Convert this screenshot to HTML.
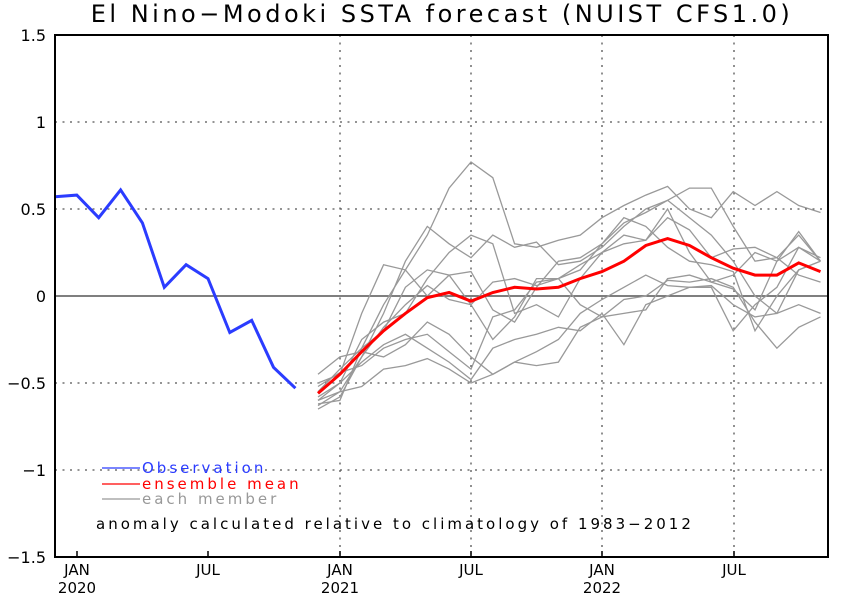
<!DOCTYPE html>
<html><head><meta charset="utf-8"><style>
html,body{margin:0;padding:0;background:#fff;}
svg text{font-family:"DejaVu Sans","Liberation Sans",sans-serif;}
</style></head><body>
<svg id="s" width="843" height="597" xmlns="http://www.w3.org/2000/svg">
<rect width="843" height="597" fill="#fff"/>
<text x="442" y="22" font-size="24" text-anchor="middle" letter-spacing="3.5" fill="#000">El Nino−Modoki SSTA forecast (NUIST CFS1.0)</text>
<g stroke="#555" stroke-width="1.3" stroke-dasharray="2,5.5">
<line x1="55" y1="122" x2="828" y2="122"/><line x1="55" y1="209" x2="828" y2="209"/>
<line x1="55" y1="383" x2="828" y2="383"/><line x1="55" y1="470" x2="828" y2="470"/>
<line x1="340" y1="35" x2="340" y2="557"/><line x1="471" y1="35" x2="471" y2="557"/>
<line x1="602" y1="35" x2="602" y2="557"/><line x1="734" y1="35" x2="734" y2="557"/>
</g>
<line x1="55" y1="296" x2="828" y2="296" stroke="#555" stroke-width="1.5"/>
<g id="mem" fill="none" stroke="#999" stroke-width="1.3"></g>
<polyline id="mean" fill="none" stroke="#f00" stroke-width="3"/>
<polyline id="obs" fill="none" stroke="#2b3cff" stroke-width="3"/>
<rect x="55" y="35" width="773" height="522" fill="none" stroke="#000" stroke-width="2"/>
<g font-size="16" text-anchor="end" fill="#000">
<text x="46" y="41">1.5</text><text x="46" y="128">1</text><text x="46" y="215">0.5</text>
<text x="46" y="302">0</text><text x="46" y="389">−0.5</text><text x="46" y="476">−1</text><text x="46" y="563">−1.5</text>
</g>
<g stroke="#000" stroke-width="1.5">
<line x1="77" y1="557" x2="77" y2="551"/><line x1="208" y1="557" x2="208" y2="551"/>
<line x1="340" y1="557" x2="340" y2="551"/><line x1="471" y1="557" x2="471" y2="551"/>
<line x1="602" y1="557" x2="602" y2="551"/><line x1="734" y1="557" x2="734" y2="551"/>
</g>
<g font-size="15" text-anchor="middle" fill="#000">
<text x="77" y="575">JAN</text><text x="77" y="593">2020</text>
<text x="208" y="575">JUL</text>
<text x="340" y="575">JAN</text><text x="340" y="593">2021</text>
<text x="471" y="575">JUL</text>
<text x="602" y="575">JAN</text><text x="602" y="593">2022</text>
<text x="734" y="575">JUL</text>
</g>
<line x1="102" y1="468" x2="140" y2="468" stroke="#2b3cff" stroke-width="1.3"/>
<text x="142" y="473" font-size="15" fill="#2b3cff" letter-spacing="3">Observation</text>
<line x1="102" y1="484" x2="140" y2="484" stroke="#f00" stroke-width="1.3"/>
<text x="142" y="489" font-size="15" fill="#f00" letter-spacing="3">ensemble mean</text>
<line x1="102" y1="499" x2="140" y2="499" stroke="#999" stroke-width="1.3"/>
<text x="142" y="504" font-size="15" fill="#999" letter-spacing="3">each member</text>
<text x="96" y="529" font-size="15" fill="#000" letter-spacing="3">anomaly calculated relative to climatology of 1983−2012</text>
</svg>
<script>
function Y(v){return 296-v*174;}
function pts(x0,vals){return vals.map(function(v,i){return (x0+i*21.85).toFixed(1)+","+Y(v).toFixed(1);}).join(" ");}
document.getElementById("obs").setAttribute("points",pts(55,[0.57,0.58,0.45,0.61,0.42,0.05,0.18,0.10,-0.21,-0.14,-0.41,-0.53]));
document.getElementById("mean").setAttribute("points",pts(318,[-0.56,-0.45,-0.32,-0.2,-0.1,-0.01,0.02,-0.03,0.02,0.05,0.04,0.05,0.1,0.14,0.2,0.29,0.33,0.29,0.22,0.16,0.12,0.12,0.19,0.14]));
var M=[
[-0.62,-0.6,-0.3,-0.05,0.15,0.35,0.62,0.77,0.68,0.3,0.28,0.32,0.35,0.45,0.52,0.58,0.63,0.5,0.45,0.6,0.52,0.6,0.52,0.48],
[-0.6,-0.55,-0.35,-0.1,0.2,0.4,0.3,0.22,0.35,0.28,0.31,0.18,0.2,0.28,0.4,0.5,0.55,0.62,0.62,0.4,0.2,0.22,0.35,0.2],
[-0.5,-0.45,-0.1,0.18,0.15,0.0,0.12,0.14,-0.08,-0.15,0.05,0.2,0.22,0.3,0.42,0.48,0.55,0.45,0.35,0.2,0.0,-0.1,0.15,0.2],
[-0.55,-0.42,-0.3,-0.2,0.05,0.15,0.12,-0.05,-0.25,-0.12,0.1,0.1,0.18,0.25,0.3,0.32,0.45,0.38,0.22,0.27,0.28,0.22,0.12,0.08],
[-0.45,-0.35,-0.32,-0.35,-0.28,-0.15,-0.22,-0.35,-0.45,-0.38,-0.32,-0.25,-0.1,-0.02,0.05,0.12,0.06,0.05,0.06,-0.05,-0.12,-0.1,-0.05,-0.1],
[-0.63,-0.55,-0.52,-0.42,-0.4,-0.36,-0.42,-0.5,-0.45,-0.38,-0.4,-0.38,-0.18,-0.12,-0.02,0.0,0.09,0.08,0.1,0.05,-0.15,-0.3,-0.18,-0.12],
[-0.52,-0.44,-0.4,-0.3,-0.25,-0.22,-0.32,-0.42,-0.12,-0.08,0.08,0.1,0.15,0.3,0.45,0.4,0.28,0.2,0.18,0.14,-0.2,0.0,0.15,0.2],
[-0.6,-0.5,-0.38,-0.28,-0.22,-0.3,-0.38,-0.48,-0.3,-0.25,-0.22,-0.18,-0.2,-0.1,-0.28,-0.05,0.0,0.05,0.05,-0.2,-0.05,0.05,0.28,0.22],
[-0.65,-0.58,-0.35,-0.18,-0.05,0.06,-0.02,-0.05,0.08,0.1,0.06,0.1,-0.05,-0.12,-0.1,-0.08,0.1,0.12,0.08,0.04,-0.08,0.2,0.37,0.2],
[-0.58,-0.5,-0.25,-0.15,-0.1,0.1,0.25,0.35,0.3,-0.1,-0.05,-0.12,0.1,0.25,0.35,0.32,0.5,0.25,0.08,0.12,0.25,0.2,0.28,0.2]
];
var g=document.getElementById("mem");
M.forEach(function(m){var p=document.createElementNS("http://www.w3.org/2000/svg","polyline");p.setAttribute("points",pts(318,m));g.appendChild(p);});
</script>
</body></html>
